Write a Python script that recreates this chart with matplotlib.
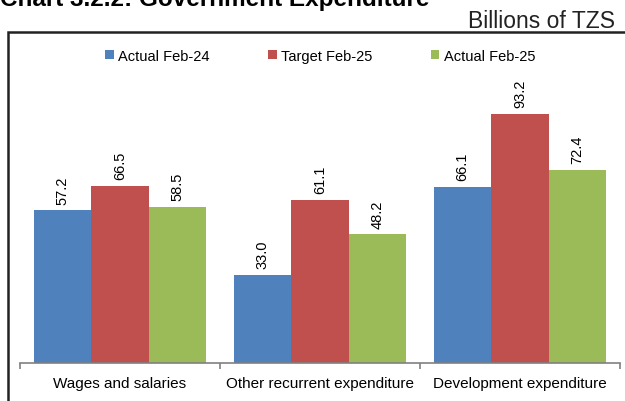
import matplotlib
matplotlib.use("Agg")
import matplotlib.pyplot as plt
import numpy as np
from matplotlib.patches import Rectangle

plt.rcParams['font.family'] = ['Liberation Sans', 'DejaVu Sans']

# datos del gráfico
categories = ["Wages and salaries", "Other recurrent expenditure", "Development expenditure"]
series_names = ["Actual Feb-24", "Target Feb-25", "Actual Feb-25"]
actual_feb24 = [57.2, 33.0, 66.1]
target_feb25 = [66.5, 61.1, 93.2]
actual_feb25 = [58.5, 48.2, 72.4]
colors = ["#4F81BD", "#C0504D", "#9BBB59"]

fig = plt.figure(figsize=(6.25, 4.02), dpi=100)
ax = fig.add_axes([20 / 625, 38 / 402, 600 / 625, 266.7 / 402])

x = np.arange(len(categories))
w = 0.2867
for i, (vals, name, c) in enumerate(zip([actual_feb24, target_feb25, actual_feb25], series_names, colors)):
    bars = ax.bar(x + (i - 1) * w, vals, width=w, color=c, label=name)
    for b, v in zip(bars, vals):
        ax.annotate(f"{v:.1f}", (b.get_x() + b.get_width() / 2, v), xytext=(0, 5),
                    textcoords="offset points", rotation=90, ha="center", va="bottom",
                    fontsize=10.5, color="black", annotation_clip=False)

ax.set_xlim(-0.5, len(categories) - 0.5)
ax.set_ylim(0, 100)
ax.set_yticks([])
for s in ["top", "right", "left"]:
    ax.spines[s].set_visible(False)
ax.spines["bottom"].set_color("#808080")
ax.spines["bottom"].set_linewidth(1.2)
ax.set_xticks(np.arange(-0.5, len(categories)))
ax.set_xticklabels([])
ax.tick_params(axis="x", length=4, color="#808080", width=1.2, direction="out")
for xi, lab in zip(x, categories):
    ax.text(xi, -5, lab, ha="center", va="top", fontsize=11)

ax.legend(loc="center", bbox_to_anchor=(320 / 625, 1 - 57 / 402), bbox_transform=fig.transFigure,
          ncol=3, frameon=False, fontsize=10.5, handlelength=0.6, handleheight=0.6,
          handletextpad=0.3, columnspacing=4.0)

# marco y títulos
fig.patches.append(Rectangle((8 / 625, -0.1), 1.1, 1 - 33 / 402 + 0.1, transform=fig.transFigure,
                             fill=False, edgecolor="#222222", linewidth=1.8))
fig.text(0.0, 1 - 6 / 402, "Chart 3.2.2: Government Expenditure", fontsize=17.5, fontweight="bold",
         ha="left", va="baseline")
fig.text(615 / 625, 1 - 28 / 402, "Billions of TZS", fontsize=16.5, ha="right", va="baseline", color="#222222")

fig.savefig("out.png", dpi=100)
